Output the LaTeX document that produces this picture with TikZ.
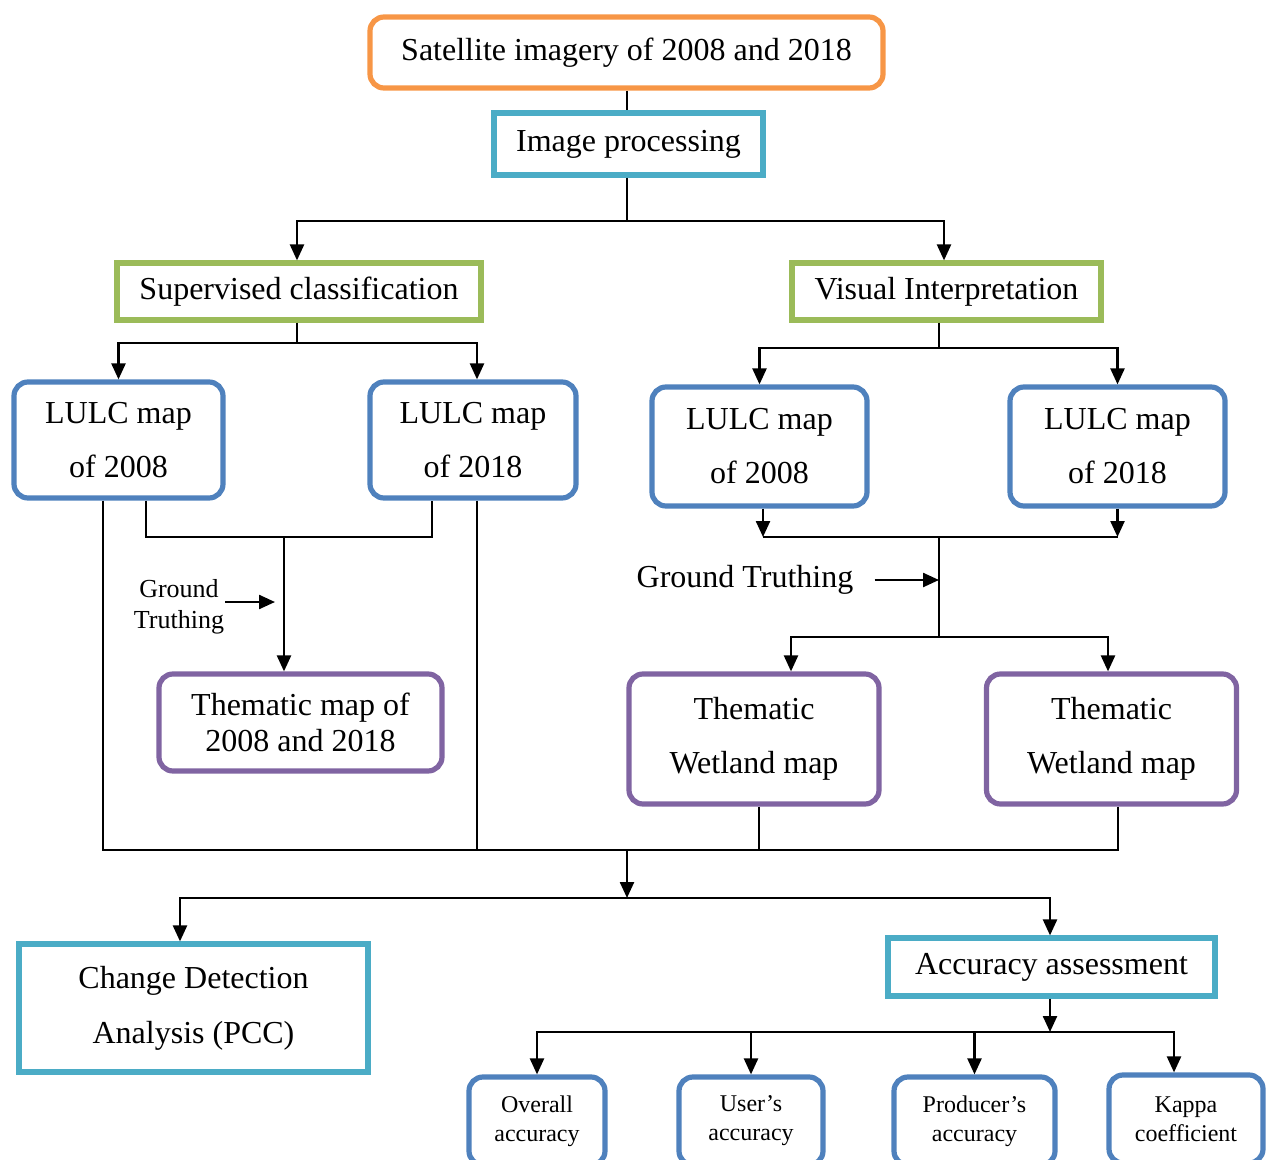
\documentclass[tikz,border=0pt]{standalone}
\usepackage{fontspec}
\setmainfont{Liberation Serif}
\usetikzlibrary{arrows.meta}
\definecolor{satorange}{HTML}{F79646}
\definecolor{proccyan}{HTML}{4BACC6}
\definecolor{classgreen}{HTML}{9BBB59}
\definecolor{mapblue}{HTML}{4F81BD}
\definecolor{thempurple}{HTML}{8064A2}
\tikzset{
  box/.style={draw, line width=2.6pt, align=center, inner sep=0pt, font=\fontsize{16}{27}\selectfont},
  rbox/.style={box, rounded corners=7pt},
  lulc/.style={rbox, draw=mapblue},
  wet/.style={rbox, draw=thempurple, minimum width=125pt, minimum height=65pt},
  acc/.style={rbox, draw=mapblue, minimum height=44pt, font=\fontsize{12}{14.5}\selectfont},
  lbl/.style={align=center, inner sep=0pt}
}
\begin{document}
\begin{tikzpicture}[x=0.5pt,y=-0.5pt,line width=1.2pt,>={Triangle[length=8pt,width=7pt]}]
  \useasboundingbox (0,0) rectangle (1268,1160);
  \node[rbox,draw=satorange,minimum width=256.5pt,minimum height=35.5pt] (sat) at (626.5,52.5) {Satellite imagery of 2008 and 2018};
  \node[box,draw=proccyan,minimum width=134.5pt,minimum height=31pt] (img) at (628.5,144) {Image processing};
  \node[box,draw=classgreen,minimum width=182pt,minimum height=28.5pt] (sup) at (299,291.5) {Supervised classification};
  \node[box,draw=classgreen,minimum width=154.5pt,minimum height=28.5pt] (vis) at (946.5,291.5) {Visual Interpretation};
  \node[lulc,minimum width=104.5pt,minimum height=58pt] (lulcA) at (118.5,440) {LULC map\\of 2008};
  \node[lulc,minimum width=103pt,minimum height=58pt] (lulcB) at (473,440) {LULC map\\of 2018};
  \node[lulc,minimum width=107.5pt,minimum height=59.5pt] (lulcC) at (759.5,446.5) {LULC map\\of 2008};
  \node[lulc,minimum width=107.5pt,minimum height=59.5pt] (lulcD) at (1117.5,446.5) {LULC map\\of 2018};
  \node[rbox,draw=thempurple,minimum width=141.5pt,minimum height=48.5pt,font=\fontsize{16}{18}\selectfont] (thm) at (300.5,722.5) {Thematic map of\\2008 and 2018};
  \node[wet] (wetA) at (754,739) {Thematic\\Wetland map};
  \node[wet] (wetB) at (1111.5,739) {Thematic\\Wetland map};
  \node[box,draw=proccyan,minimum width=174.5pt,minimum height=64pt,font=\fontsize{16}{27.5}\selectfont] (chg) at (193.5,1008) {Change Detection\\Analysis (PCC)};
  \node[box,draw=proccyan,minimum width=163.5pt,minimum height=29pt] (acc) at (1051.5,967) {Accuracy assessment};
  \node[acc,minimum width=68pt] (ov) at (537,1121) {Overall\\accuracy};
  \node[acc,minimum width=72pt] (us) at (751,1121) {User’s\\accuracy};
  \node[acc,minimum width=80.5pt] (pr) at (974.5,1121) {Producer’s\\accuracy};
  \node[acc,minimum width=77pt] (ka) at (1186,1119) {Kappa\\coefficient};
  \node[lbl,font=\fontsize{13}{15.5}\selectfont] (gtlabA) at (179,607) {Ground\\Truthing};
  \node[lbl,font=\fontsize{16}{18}\selectfont] (gtlabB) at (745,580) {Ground Truthing};
  \coordinate (j1) at (627,221);
  \coordinate (j2) at (297,343);
  \coordinate (j4) at (939,348);
  \coordinate (gtL) at (284,537);
  \coordinate (gtarA) at (275,602);
  \coordinate (gtR) at (939,537);
  \coordinate (gtR2) at (939,637);
  \coordinate (mid) at (627,850);
  \coordinate (split) at (627,898);
  \coordinate (accj) at (1050,1032);
  % top part
  \draw[line width=0.8pt] (sat.south -| j1) -- (img.north -| j1);
  \draw (img.south -| j1) -- (j1);
  \draw[->] (j1) -| (sup.north -| j2);
  \draw[->] (j1) -| (vis.north -| 944,0);
  % supervised branch
  \draw (sup.south -| j2) -- (j2);
  \draw[->] (j2) -| (lulcA.north);
  \draw[->] (j2) -| (lulcB.north -| 477,0);
  \draw (lulcA.south -| 146,0) |- (gtL) -| (lulcB.south -| 432,0);
  \draw[->] (gtL) -- (gtL |- thm.north);
  \draw[->] (gtlabA.east |- gtarA) -- (gtarA);
  % visual branch
  \draw (vis.south -| j4) -- (j4);
  \draw[->] (j4) -| (lulcC.north);
  \draw[->] (j4) -| (lulcD.north);
  \draw[->] (lulcC.south -| 763,0) -- (gtR -| 763,0);
  \draw[->] (lulcD.south) -- (lulcD.south |- gtR);
  \draw (gtR -| 763,0) -- (lulcD.south |- gtR);
  \draw (gtR) -- (gtR2);
  \draw[->] (gtlabB.east) ++(20,0) -- (gtlabB.east -| gtR);
  \draw[->] (gtR2) -| (wetA.north -| 791,0);
  \draw[->] (gtR2) -| (wetB.north -| 1108,0);
  % merge
  \draw (lulcA.south -| 103,0) |- (mid);
  \draw (lulcB.south -| 477,0) |- (mid);
  \draw (wetA.south -| 759,0) |- (mid);
  \draw (wetB.south -| 1118,0) |- (mid);
  \draw[->] (mid) -- (split);
  \draw[->] (split) -| (chg.north -| 180,0);
  \draw[->] (split) -| (acc.north -| accj);
  \draw[->] (acc.south -| accj) -- (accj);
  \foreach \b in {ov,us,pr}
    \draw[->] (accj) -| (\b.north);
  \draw[->] (accj) -| (ka.north -| 1174,0);
\end{tikzpicture}
\end{document}
